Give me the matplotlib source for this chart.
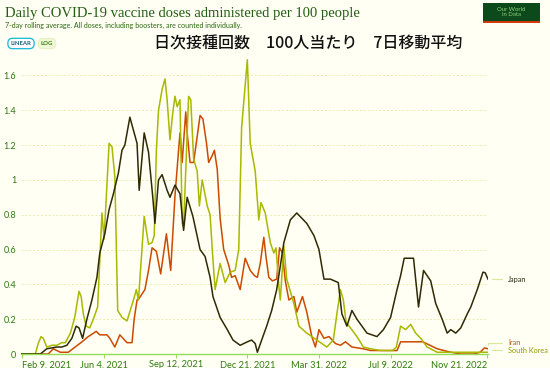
import numpy as np
import pandas as pd
import matplotlib
matplotlib.use("Agg")
import matplotlib.pyplot as plt
from matplotlib.patches import Rectangle

# days since 2021-02-09, daily doses per 100 people (7-day avg)
START = "2021-02-09"

japan_day = [0, 26, 35, 42, 49, 56, 63, 70, 76, 80, 85, 91, 98, 105, 109, 116, 122, 128,
             135, 140, 144, 151, 161, 164, 171, 177, 183, 186, 191, 196, 203, 207, 214, 221,
             226, 231, 239, 249, 256, 263, 267, 277, 287, 295, 305, 315, 321, 326, 329, 335,
             342, 349, 356, 366, 375, 384, 398, 408, 415, 422, 431, 442, 447, 454, 461, 468,
             475, 482, 496, 505, 515, 524, 529, 534, 547, 554, 561, 571, 578, 587, 594, 599,
             606, 613, 622, 627, 636, 644, 647, 651]
japan_val = [0, 0, 0.03, 0.035, 0.04, 0.04, 0.05, 0.09, 0.16, 0.15, 0.09, 0.2, 0.31, 0.44,
             0.58, 0.69, 0.83, 0.92, 1.04, 1.17, 1.2, 1.36, 1.21, 0.94, 1.27, 1.16, 0.9, 0.75,
             1.0, 1.03, 0.94, 0.9, 0.97, 0.92, 0.71, 0.9, 0.79, 0.6, 0.56, 0.44, 0.33, 0.21,
             0.14, 0.08, 0.05, 0.07, 0.08, 0.06, 0.01, 0.08, 0.16, 0.25, 0.37, 0.64, 0.77, 0.81,
             0.75, 0.68, 0.6, 0.43, 0.43, 0.41, 0.23, 0.16, 0.25, 0.2, 0.16, 0.12, 0.1, 0.14,
             0.21, 0.37, 0.45, 0.55, 0.55, 0.27, 0.48, 0.42, 0.29, 0.2, 0.12, 0.14, 0.12, 0.15,
             0.23, 0.27, 0.37, 0.47, 0.467, 0.43]

korea_day = [0, 19, 23, 27, 30, 35, 42, 49, 56, 61, 68, 74, 80, 83, 86, 90, 95, 100, 106,
             112, 115, 122, 126, 130, 134, 140, 147, 150, 156, 160, 163, 171, 177, 182, 185,
             188, 191, 196, 200, 203, 207, 211, 214, 217, 221, 224, 226, 233, 236, 240, 245,
             248, 252, 259, 263, 266, 270, 277, 284, 291, 298, 303, 307, 315, 319, 326, 331,
             334, 340, 347, 352, 355, 359, 361, 366, 370, 375, 380, 387, 398, 412, 426, 435,
             440, 445, 449, 453, 459, 468, 477, 487, 501, 518, 523, 529, 536, 543, 550, 557,
             566, 580, 651]
korea_val = [0, 0, 0.06, 0.10, 0.09, 0.04, 0.05, 0.05, 0.065, 0.065, 0.12, 0.21, 0.36, 0.33,
             0.23, 0.16, 0.15, 0.2, 0.27, 0.81, 0.66, 1.21, 1.19, 1.02, 0.25, 0.21, 0.19, 0.23,
             0.31, 0.37, 0.31, 0.79, 0.63, 0.64, 0.68, 1.17, 1.40, 1.52, 1.58, 1.46, 1.23, 1.39,
             1.48, 1.42, 1.46, 0.75, 0.73, 1.48, 1.46, 1.12, 1.05, 0.85, 1.0, 0.85, 0.8, 0.6,
             0.37, 0.52, 0.41, 0.47, 0.48, 0.6, 1.3, 1.69, 1.21, 1.05, 0.77, 0.87, 0.81, 0.64,
             0.58, 0.61, 0.39, 0.31, 0.62, 0.43, 0.36, 0.29, 0.16, 0.12, 0.08, 0.04, 0.08, 0.23,
             0.37, 0.31, 0.18, 0.15, 0.1, 0.04, 0.03, 0.02, 0.02, 0.04, 0.16, 0.14, 0.17, 0.12,
             0.09, 0.04, 0.01, 0.01]

iran_day = [0, 37, 44, 49, 54, 65, 81, 93, 104, 109, 119, 123, 130, 137, 147, 154, 157, 161,
            164, 172, 177, 182, 188, 194, 202, 208, 214, 219, 221, 224, 229, 231, 235, 240, 245,
            249, 253, 258, 261, 266, 269, 273, 277, 282, 289, 293, 298, 305, 312, 319, 325, 329,
            333, 338, 341, 345, 350, 356, 360, 364, 368, 373, 380, 384, 392, 398, 405, 410, 415,
            422, 429, 438, 445, 452, 461, 477, 487, 518, 524, 529, 560, 580, 599, 613, 631, 640,
            646, 651]
iran_val = [0, 0, 0.03, 0.02, 0.01, 0.01, 0.06, 0.1, 0.13, 0.11, 0.11, 0.09, 0.04, 0.11, 0.065,
            0.065, 0.2, 0.31, 0.32, 0.37, 0.48, 0.61, 0.59, 0.46, 0.69, 0.48, 0.91, 1.17, 1.27,
            1.1, 1.39, 1.27, 1.1, 1.1, 1.25, 1.37, 1.35, 1.21, 1.1, 1.14, 1.17, 1.06, 0.78, 0.6,
            0.51, 0.44, 0.45, 0.37, 0.55, 0.48, 0.45, 0.44, 0.52, 0.67, 0.56, 0.44, 0.42, 0.43,
            0.61, 0.58, 0.42, 0.31, 0.33, 0.24, 0.33, 0.24, 0.1, 0.04, 0.14, 0.09, 0.1, 0.06,
            0.05, 0.07, 0.04, 0.03, 0.02, 0.02, 0.02, 0.07, 0.07, 0.03, 0.01, 0.0, 0.0, 0.01,
            0.035, 0.03]

tick_dates = ["2021-02-09", "2021-06-04", "2021-09-12", "2021-12-21",
              "2022-03-31", "2022-07-09", "2022-11-21"]
tick_labels = ["Feb 9, 2021", "Jun 4, 2021", "Sep 12, 2021", "Dec 21, 2021",
               "Mar 31, 2022", "Jul 9, 2022", "Nov 21, 2022"]
y_ticks = [0, 0.2, 0.4, 0.6, 0.8, 1, 1.2, 1.4, 1.6]

series = [
    ("Iran", iran_day, iran_val, "#cc4a00", "#b85a10", 6),
    ("South Korea", korea_day, korea_val, "#a9b800", "#8f9a00", 2),
    ("Japan", japan_day, japan_val, "#2f2a05", "#2a2a10", 0),
]

BG = "#fffff4"
GREEN_TXT = "#2f7a10"

start = pd.Timestamp(START)


def to_dates(days):
    return start + pd.to_timedelta(np.array(days), unit="D")


fig = plt.figure(figsize=(5.5, 3.68), dpi=100, facecolor=BG)
ax = fig.add_axes([21 / 550, 14 / 368, 467 / 550, 296 / 368], facecolor=BG)

for name, d, v, col, lab_col, dy in series:
    dates = to_dates(d)
    ax.plot(dates, v, color=col, lw=1.1, solid_joinstyle="round")
    ax.annotate(name, xy=(dates[-1], v[-1]), xytext=(20, dy), textcoords="offset pixels",
                fontsize=5.3, color=lab_col, family="Lato", va="center", ha="left",
                annotation_clip=False,
                arrowprops=dict(arrowstyle="-", color="#d6e89a", lw=0.8,
                                shrinkA=2, shrinkB=3,
                                connectionstyle="angle,angleA=0,angleB=90,rad=0"))

ax.set_ylim(0, 1.7)
ax.set_xlim(start - pd.Timedelta(days=1), start + pd.Timedelta(days=651))
ax.set_yticks(y_ticks)
ax.set_yticklabels(["0", "0.2", "0.4", "0.6", "0.8", "1", "1.2", "1.4", "1.6"])
ax.set_xticks(pd.to_datetime(tick_dates))
ax.set_xticklabels(tick_labels)
xl = ax.get_xticklabels()
xl[0].set_ha("left")
xl[-1].set_ha("right")

ax.grid(axis="y", color="#ecebb0", lw=0.7, linestyle=(0, (2, 2)))
ax.set_axisbelow(True)
for s in ["top", "right", "left"]:
    ax.spines[s].set_visible(False)
ax.spines["bottom"].set_color("#93dc55")
ax.spines["bottom"].set_linewidth(1.0)
ax.tick_params(axis="y", length=0, pad=3.5, labelsize=6.6, labelcolor=GREEN_TXT)
ax.tick_params(axis="x", length=3, width=0.7, color="#93dc55", pad=1.5,
               labelsize=6.7, labelcolor=GREEN_TXT)
for lab in ax.get_xticklabels() + ax.get_yticklabels():
    lab.set_family("Lato")

# header
fig.text(5 / 550, 1 - 13 / 368, "Daily COVID-19 vaccine doses administered per 100 people",
         family="Liberation Serif", fontsize=10.5, color="#245c14", va="center", ha="left")
fig.text(5 / 550, 1 - 25 / 368,
         "7-day rolling average. All doses, including boosters, are counted individually.",
         family="Lato", fontsize=5.1, color="#2a6a10", va="center", ha="left")
fig.text(21 / 550, 1 - 43.5 / 368, "LINEAR", family="Lato", fontsize=4.3, weight="bold",
         color="#1b5e7a", ha="center", va="center",
         bbox=dict(boxstyle="round,pad=0.45,rounding_size=0.8", fc="#ffffff",
                   ec="#17b7d8", lw=0.9))
fig.text(47 / 550, 1 - 43.5 / 368, "LOG", family="Lato", fontsize=4.3, weight="bold",
         color="#3a7a10", ha="center", va="center",
         bbox=dict(boxstyle="round,pad=0.45,rounding_size=0.8", fc="#eef8d6",
                   ec="#e2efc0", lw=0.6))
fig.text(308 / 550, 1 - 44 / 368, "日次接種回数　100人当たり　7日移動平均",
         family=["Noto Sans CJK JP", "DejaVu Sans"], fontsize=11.5, weight="medium",
         color="#111111", ha="center", va="center")

# logo
fig.patches.append(Rectangle((483 / 550, 1 - 21 / 368), 57 / 550, 18 / 368,
                             transform=fig.transFigure, fc="#0c4a1c", ec="none"))
fig.patches.append(Rectangle((483 / 550, 1 - 23 / 368), 57 / 550, 2 / 368,
                             transform=fig.transFigure, fc="#d23a0a", ec="none"))
fig.text(511.5 / 550, 1 - 12 / 368, "Our World\nin Data", family="Lato", fontsize=4.3,
         color="#8fd07a", ha="center", va="center", linespacing=1.0)

fig.savefig("out.png", dpi=100, facecolor=BG)
